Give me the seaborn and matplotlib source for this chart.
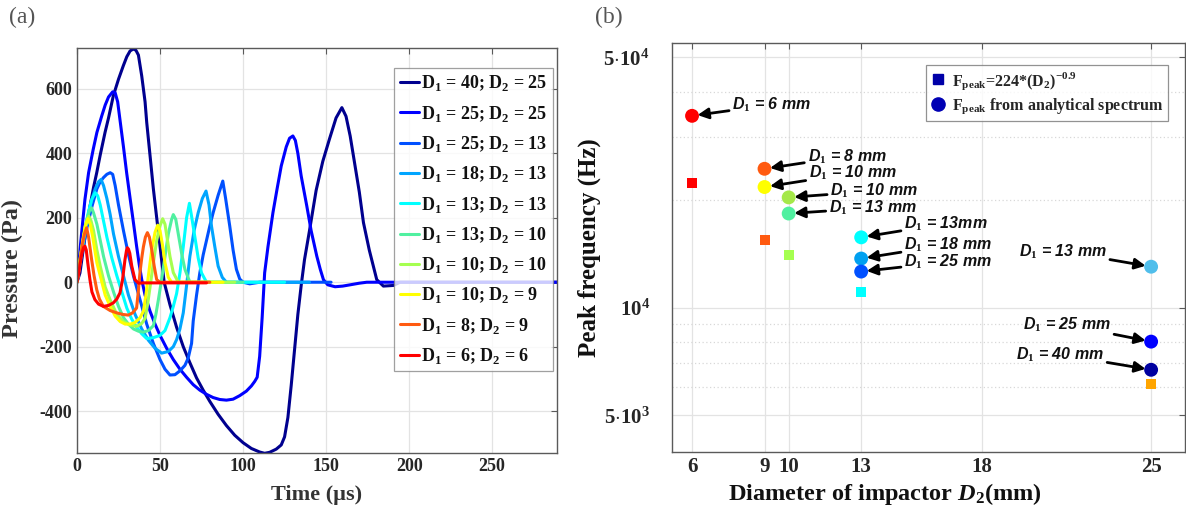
import pandas as pd
import seaborn as sns
import matplotlib.pyplot as plt
from matplotlib.lines import Line2D
from matplotlib.ticker import FixedLocator, NullFormatter

# --------------------------------------------------
# Data (a): pressure pulses
# --------------------------------------------------

t_40_25 = [0, 1.8, 4, 5.8, 8, 10, 11.9, 14, 16.9, 19, 21.9, 25, 27.9, 30, 32, 33.9, 35.5, 37, 39,
           41, 42, 44, 46, 48, 50, 52.5, 56, 60, 64, 68, 72, 76, 80, 85, 90, 95, 100, 105, 110,
           113, 116, 120, 123, 125, 127, 129, 131, 133, 135, 137, 140, 144, 148, 152, 156, 159.5,
           162, 164.5, 167, 170, 172.5, 176, 180.5, 184.5, 190.5, 194.5, 200, 289]
p_40_25 = [0, 29, 110, 174, 240, 295, 340, 395, 465, 510, 579, 630, 672, 700, 718, 724, 720, 705,
           640, 560, 496, 393, 290, 200, 112, 0, -70, -140, -200, -250, -297, -335, -370, -410,
           -445, -475, -498, -516, -527, -531, -528, -518, -505, -480, -420, -320, -210, -100,
           -10, 70, 160, 285, 375, 444, 510, 542, 515, 454, 375, 280, 185, 100, 8, -12, -10, 0,
           0, 0]

t_25_25 = [0, 1, 2, 3.5, 4.8, 7, 9.8, 12, 14.9, 17, 19, 21.5, 23, 24.5, 26, 28, 29.9, 32, 34,
           35.9, 37.5, 39, 41, 44, 47, 50, 54, 58, 62, 66, 70, 74, 78, 82, 86, 90, 94, 98, 102,
           105, 107, 108.5, 110, 111.5, 113, 115, 118, 120.5, 123, 126, 128, 130, 131.5, 133,
           135, 138.4, 141, 144.4, 146.5, 148.4, 151, 155.4, 160, 164.5, 170, 174.5, 289]
p_25_25 = [0, 50, 110, 190, 257, 340, 413, 465, 516, 550, 575, 591, 588, 560, 500, 420, 340, 260,
           185, 112, 55, 8, -40, -90, -130, -165, -205, -240, -270, -295, -318, -335, -348, -358,
           -364, -366, -363, -352, -338, -322, -308, -295, -230, -110, 29, 110, 216, 290, 361,
           420, 447, 454, 440, 400, 330, 236, 160, 81, 40, 8, -8, -14, -12, -8, -3, 0, 0]

t_25_13 = [0, 3, 6, 9, 12, 14, 16, 18, 20, 21.5, 23, 25, 28, 31, 34, 38, 42, 46, 50, 53, 56, 59,
           62, 65, 67, 69, 70, 72, 74, 76, 78, 80, 82, 85, 87.8, 89.5, 92, 94, 96, 98, 100, 104,
           110, 153]
p_25_13 = [0, 90, 170, 235, 290, 312, 325, 335, 340, 335, 300, 240, 160, 85, 20, -55, -130, -190,
           -240, -270, -288, -287, -275, -258, -235, -190, -120, -40, 30, 85, 130, 175, 216, 270,
           314, 260, 174, 100, 40, 10, 0, -5, 0, 0]

t_18_13 = [0, 3, 6, 8.5, 11, 13, 14.5, 16, 18, 20, 22, 25, 28, 31, 35, 39, 43, 47, 51, 55, 58, 60,
           62, 64, 66, 68, 70.5, 73, 75.5, 77.7, 79.5, 81, 83, 85, 87.5, 90, 140]
p_18_13 = [0, 100, 190, 250, 290, 312, 319, 300, 260, 210, 150, 80, 20, -40, -100, -145, -180,
           -205, -220, -215, -200, -178, -145, -95, -10, 81, 160, 216, 260, 283, 240, 174, 110, 50,
           15, 0, 0]

t_13_13 = [0, 2.5, 5, 7, 9, 11, 12.5, 14, 16, 18, 21, 24, 27, 30, 33, 36, 39, 42, 46, 50, 53, 56,
           58, 60, 62, 64, 66, 67.7, 69, 71, 73, 75, 78, 125]
p_13_13 = [0, 85, 170, 220, 258, 278, 268, 240, 190, 140, 75, 20, -30, -80, -115, -140, -160, -175,
           -172, -165, -150, -110, -75, -35, 29, 110, 200, 245, 205, 140, 75, 29, 0, 0]

t_13_10 = [0, 2, 4, 6, 7.5, 8.8, 10, 12, 14, 16, 19, 22, 25, 28, 31, 34, 37, 40, 43, 46, 47.5, 49,
           51, 53, 55, 57, 58, 59.5, 61, 63, 65, 68, 100]
p_13_10 = [0, 70, 140, 195, 222, 231, 215, 180, 130, 80, 20, -30, -75, -110, -130, -145, -152,
           -155, -150, -135, -100, -55, 10, 80, 150, 195, 210, 195, 150, 90, 40, 0, 0]

t_10_10 = [0, 2, 4, 5.5, 7.2, 8.5, 10, 12, 14, 17, 20, 24, 28, 32, 36, 39, 41, 42.5, 44, 46, 48,
           50, 51.6, 53, 54.5, 56, 58, 61, 95]
p_10_10 = [0, 75, 140, 185, 205, 190, 160, 100, 50, -15, -55, -100, -122, -133, -137, -128, -112,
           -70, -15, 60, 130, 175, 197, 180, 130, 80, 30, 0, 0]

t_10_9 = [0, 2, 3.5, 5, 6.5, 8, 9.5, 12, 14.5, 17, 20, 23, 26, 29, 32, 35, 38, 40, 41.5, 43, 45,
          47, 48.6, 50, 51.5, 53, 55, 57, 88]
p_10_9 = [0, 75, 130, 175, 197, 180, 140, 60, 10, -40, -75, -105, -122, -130, -130, -125, -110,
          -90, -40, 20, 100, 155, 177, 160, 115, 60, 15, 0, 0]

t_8_9 = [0, 1.5, 3, 4.5, 5.8, 7, 8.8, 10.3, 11.9, 13.5, 15.9, 20, 23.9, 27.5, 30.9, 33.5, 35.9,
         36.9, 37.9, 39, 40, 41.2, 42.4, 43.6, 45, 46.5, 48, 50, 80]
p_8_9 = [0, 50, 110, 150, 169, 140, 71, 20, -23, -52, -75, -88, -95, -100, -102, -95, -80, -30,
         29, 75, 110, 140, 154, 140, 102, 50, 8, 0, 0]

t_6_6 = [0, 1, 2, 3, 4, 4.8, 5.6, 6.5, 7.8, 9, 10.8, 13, 15.9, 19, 21.9, 24, 25.9, 27.5, 28.9,
         29.8, 30.3, 31, 31.8, 33, 34.9, 37, 40, 78]
p_6_6 = [0, 25, 60, 90, 108, 112, 100, 60, 8, -30, -54, -68, -75, -72, -64, -52, -33, 10, 70, 98,
         107, 103, 90, 50, 8, -3, -2, -2]

curve_labels = ["D$_1$ = 40; D$_2$ = 25", "D$_1$ = 25; D$_2$ = 25", "D$_1$ = 25; D$_2$ = 13",
                "D$_1$ = 18; D$_2$ = 13", "D$_1$ = 13; D$_2$ = 13", "D$_1$ = 13; D$_2$ = 10",
                "D$_1$ = 10; D$_2$ = 10", "D$_1$ = 10; D$_2$ = 9", "D$_1$ = 8; D$_2$ = 9",
                "D$_1$ = 6; D$_2$ = 6"]
curve_t = [t_40_25, t_25_25, t_25_13, t_18_13, t_13_13, t_13_10, t_10_10, t_10_9, t_8_9, t_6_6]
curve_p = [p_40_25, p_25_25, p_25_13, p_18_13, p_13_13, p_13_10, p_10_10, p_10_9, p_8_9, p_6_6]
curve_colors = ["#00008F", "#0000FF", "#0050FF", "#00A5FF", "#00FFFF", "#50F0A0",
                "#A5FF50", "#FFFF00", "#FF5A10", "#FF0000"]

time_ticks = [0, 50, 100, 150, 200, 250]
pressure_ticks = [-400, -200, 0, 200, 400, 600]

# --------------------------------------------------
# Data (b): peak frequency vs impactor diameter
# --------------------------------------------------

d2_circle = [6, 9, 9, 10, 10, 13, 13, 13, 25, 25, 25]
d1_circle = [6, 8, 10, 10, 13, 13, 18, 25, 13, 25, 40]
f_circle = [3.43e4, 2.44e4, 2.17e4, 2.03e4, 1.83e4, 1.57e4, 1.37e4, 1.26e4, 1.30e4, 8.03e3, 6.70e3]
circle_colors = ["#FF0000", "#FF5A10", "#FFFF00", "#A5E84A", "#50F0A0", "#00FFFF",
                 "#00A0F0", "#0050FF", "#50BEEB", "#0000FF", "#0000A0"]

d2_square = [6, 9, 10, 13, 25]
f_square = [2.23e4, 1.545e4, 1.40e4, 1.107e4, 6.11e3]
square_colors = ["#FF0000", "#FF5A10", "#A5FF50", "#00FFFF", "#FFA500"]

d2_ticks = [6, 9, 10, 13, 18, 25]

# --------------------------------------------------
# Style
# --------------------------------------------------

sns.set_theme(style="white")
plt.rcParams["font.family"] = ["Liberation Serif", "DejaVu Serif"]
plt.rcParams["font.weight"] = "bold"
plt.rcParams["mathtext.fontset"] = "custom"
plt.rcParams["mathtext.rm"] = "Liberation Serif:bold"
plt.rcParams["mathtext.bf"] = "Liberation Serif:bold"
plt.rcParams["mathtext.it"] = "Liberation Sans:bold:italic"
plt.rcParams["mathtext.sf"] = "Liberation Serif:bold:italic"

GRID = "#E3E3E3"
SPINE = "#5A5A5A"
TXT = "#262626"
SERIF = dict(fontfamily="Liberation Serif", fontweight="bold", color=TXT)

fig = plt.figure(figsize=(11.86, 5.13), dpi=100)
ax1 = fig.add_axes([0.0649, 0.117, 0.4047, 0.7894])
ax2 = fig.add_axes([0.5666, 0.119, 0.4325, 0.7967])

def style_axes(ax):
    for sp in ax.spines.values():
        sp.set_color(SPINE)
        sp.set_linewidth(1.0)
    ax.tick_params(direction="in", length=4, width=0.8, colors=SPINE,
                   top=True, right=True, labelcolor=TXT)

# ==================================================
# (a) Pressure pulses
# ==================================================

for t, p, lbl, col in zip(curve_t, curve_p, curve_labels, curve_colors):
    sns.lineplot(x=t, y=p, ax=ax1, color=col, lw=2.2, sort=False, estimator=None, label=lbl)

style_axes(ax1)
ax1.set_xlim(0, 289)
ax1.set_ylim(-530, 727)
ax1.set_xticks(time_ticks, labels=[str(v) for v in time_ticks], fontsize=13, **SERIF)
ax1.set_yticks(pressure_ticks, labels=[str(v) for v in pressure_ticks], fontsize=13, **SERIF)
ax1.grid(True, color=GRID, lw=0.9)
ax1.set_axisbelow(True)
ax1.set_xlabel("Time (µs)", fontsize=16, fontweight="bold", color="#333333", labelpad=7)
ax1.set_ylabel("Pressure (Pa)", fontsize=17.5, fontweight="bold", color="#333333")
ax1.yaxis.set_label_coords(-0.112, 0.455)

leg1 = ax1.legend(loc="upper right", bbox_to_anchor=(0.9917, 0.9506), borderaxespad=0,
                  fontsize=13, handlelength=1.1, handletextpad=0.1, labelspacing=0.57,
                  borderpad=0.3, frameon=True, fancybox=False)
leg1.get_frame().set_edgecolor("#888888")
leg1.get_frame().set_linewidth(0.9)
for txt in leg1.get_texts():
    txt.set_color("#111111")

fig.text(0.008, 0.955, "(a)", fontsize=17, fontweight="normal", color="#555555")

# ==================================================
# (b) Peak frequency
# ==================================================

df_sq = pd.DataFrame({"d2": d2_square, "f": f_square, "k": range(len(d2_square))})
df_ci = pd.DataFrame({"d2": d2_circle, "f": f_circle, "k": range(len(d2_circle))})

sns.scatterplot(data=df_sq, x="d2", y="f", hue="k", palette=square_colors, marker="s", s=52,
                edgecolor="none", legend=False, ax=ax2, zorder=3)
sns.scatterplot(data=df_ci, x="d2", y="f", hue="k", palette=circle_colors, marker="o", s=100,
                edgecolor="none", legend=False, ax=ax2, zorder=3)

style_axes(ax2)
ax2.set_yscale("log")
ax2.set_xlim(5.17, 26.4)
ax2.set_ylim(3950, 54700)
ax2.set_xticks(d2_ticks, labels=[str(v) for v in d2_ticks], fontsize=15, **SERIF)
ax2.yaxis.set_major_locator(FixedLocator([5e3, 1e4, 5e4]))
ax2.set_yticklabels([r"$5{\cdot}10^{3}$", r"$10^{4}$", r"$5{\cdot}10^{4}$"], fontsize=15,
                    **SERIF)
ax2.yaxis.set_minor_locator(FixedLocator([6e3, 7e3, 8e3, 9e3, 2e4, 3e4, 4e4]))
ax2.yaxis.set_minor_formatter(NullFormatter())
ax2.tick_params(which="minor", length=0)
ax2.tick_params(axis="y", which="major", pad=16)
ax2.grid(True, which="major", color=GRID, lw=0.9)
ax2.grid(True, which="minor", axis="y", color="#D8D8D8", lw=0.9, ls=(0, (1, 2)))
ax2.set_axisbelow(True)
ax2.set_xlabel("Diameter of impactor $\\mathsf{D}_2$(mm)", fontsize=17.5, fontweight="bold",
               color="#111111")
ax2.xaxis.set_label_coords(0.415, -0.072)
ax2.set_ylabel("Peak frequency (Hz)", fontsize=18, fontweight="bold", color="#111111",
               labelpad=2)

# arrow labels: offsets (points) from each circle
label_offsets = [(29, 8, "left"), (31, 9, "left"), (32, 10, "left"), (30, 4.5, "left"),
                 (29, 4, "left"), (31, 10, "left"), (31, 10, "left"), (31, 7, "left"),
                 (-32, 11, "right"), (-29, 12, "right"), (-34, 11, "right")]
for i, (x, y, d1) in enumerate(zip(d2_circle, f_circle, d1_circle)):
    dx, dy, ha = label_offsets[i]
    unit = "mm" if i == 5 else " mm"
    ax2.annotate(f"D$_\\mathit{{1}}$ = {d1}{unit}", xy=(x, y), xytext=(dx, dy),
                 textcoords="offset points", ha=ha, va="center", fontsize=11.5,
                 family="Liberation Sans", style="italic", fontweight="bold", color="#111111",
                 arrowprops=dict(arrowstyle="-|>", color="black", lw=2.0, mutation_scale=16,
                                 shrinkA=0, shrinkB=4))

handles = [Line2D([], [], marker="s", ls="", color="#0000A8", ms=7.5),
           Line2D([], [], marker="o", ls="", color="#0000B4", ms=9.5)]
leg2 = ax2.legend(handles, [r"F$_\mathrm{peak}$=224*(D$_2$)$^{-0.9}$",
                            r"F$_\mathrm{peak}$ from analytical spectrum"],
                  loc="upper right", bbox_to_anchor=(0.967, 0.947), borderaxespad=0,
                  fontsize=11.5, handlelength=0.9, handletextpad=0.4, labelspacing=0.3,
                  borderpad=0.3, frameon=True, fancybox=False)
leg2.get_frame().set_edgecolor("#777777")
leg2.get_frame().set_linewidth(0.9)

fig.text(0.502, 0.955, "(b)", fontsize=17, fontweight="normal", color="#555555")

fig.savefig("out.png", dpi=100)
